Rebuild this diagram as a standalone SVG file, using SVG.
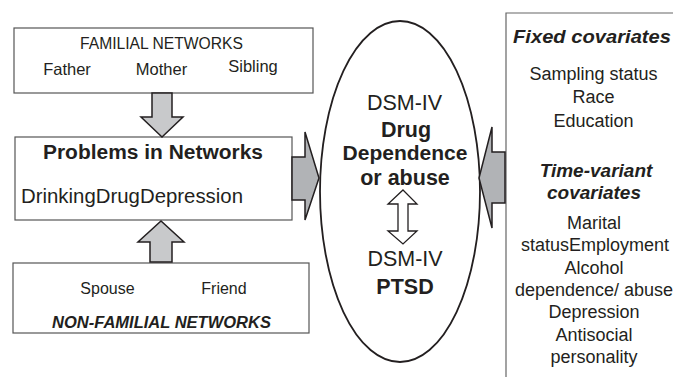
<svg xmlns="http://www.w3.org/2000/svg" width="673" height="377" viewBox="0 0 673 377">
<style>
text{font-family:"Liberation Sans",Arial,sans-serif;fill:#231f20;text-anchor:middle}
.box{fill:#fff;stroke:#555;stroke-width:1.2}
.b{font-weight:bold}
.bi{font-weight:bold;font-style:italic}
.arV{fill:#c8c9cb;stroke:#231f20;stroke-width:1.5;stroke-linejoin:miter}
.arH{fill:#b1b3b6;stroke:#231f20;stroke-width:1.5;stroke-linejoin:miter}
.r18{font-size:18px}
</style>
<rect width="673" height="377" fill="#fff"/>

<g id="familial">
<rect class="box" x="14" y="28" width="299" height="65"/>
<text x="161.5" y="49" font-size="16" textLength="163" lengthAdjust="spacingAndGlyphs">FAMILIAL NETWORKS</text>
<text x="67" y="75" font-size="16.5">Father</text>
<text x="161.5" y="75" font-size="16.5">Mother</text>
<text x="253" y="72" font-size="16.5">Sibling</text>
</g>

<g id="problems">
<rect class="box" x="15" y="137" width="277" height="83"/>
<text class="b" x="153" y="159" font-size="20" textLength="220" lengthAdjust="spacingAndGlyphs">Problems in Networks</text>
<text x="132" y="203" font-size="20" textLength="222" lengthAdjust="spacingAndGlyphs">DrinkingDrugDepression</text>
</g>

<g id="nonfamilial">
<rect class="box" x="13" y="263" width="296" height="70"/>
<text x="107.5" y="294" font-size="16">Spouse</text>
<text x="224" y="294" font-size="16">Friend</text>
<text class="bi" x="161.5" y="328" font-size="16" textLength="219" lengthAdjust="spacingAndGlyphs">NON-FAMILIAL NETWORKS</text>
</g>

<g id="outcomes">
<ellipse cx="400" cy="191.5" rx="80" ry="170.5" fill="none" stroke="#231f20" stroke-width="1.8"/>
<text x="404.5" y="110" font-size="21.5">DSM-IV</text>
<text class="b" x="406" y="137" font-size="21.5">Drug</text>
<text class="b" x="405" y="160" font-size="21">Dependence</text>
<text class="b" x="405" y="185" font-size="21.5">or abuse</text>
<text x="405" y="266" font-size="21.5">DSM-IV</text>
<text class="b" x="405" y="294" font-size="21.5">PTSD</text>
</g>

<g id="covariates">
<path d="M506 377V13H673" fill="none" stroke="#666" stroke-width="1.2"/>
<text class="bi" x="592" y="43" font-size="19" textLength="158" lengthAdjust="spacingAndGlyphs">Fixed covariates</text>
<text class="r18" x="593.5" y="80">Sampling status</text>
<text class="r18" x="593.5" y="103">Race</text>
<text class="r18" x="593.5" y="127">Education</text>
<text class="bi" x="596" y="177" font-size="19">Time-variant</text>
<text class="bi" x="594" y="199" font-size="19">covariates</text>
<text class="r18" x="594" y="229">Marital</text>
<text class="r18" x="595" y="251">statusEmployment</text>
<text class="r18" x="594" y="274">Alcohol</text>
<text class="r18" x="594" y="296">dependence/ abuse</text>
<text class="r18" x="594" y="318">Depression</text>
<text class="r18" x="594" y="341">Antisocial</text>
<text class="r18" x="594" y="363">personality</text>
</g>

<g id="connectors">
<polygon class="arV" points="152,93 172,93 172,117 183,117 162,137 141,117 152,117"/>
<polygon class="arV" points="150,262 172,262 172,242 184,242 161,221 138,242 150,242"/>
<polygon class="arH" points="292,157 305,157 305,132 319,178 305,220 305,200 292,200"/>
<polygon class="arH" points="505,152 492,152 492,127 479,178 492,228 492,203 505,203"/>
<polygon points="403,190 417,204 408,204 408,231 417,231 403,244 388,231 398,231 398,204 388,204" fill="#fff" stroke="#231f20" stroke-width="1.3"/>
</g>
</svg>
